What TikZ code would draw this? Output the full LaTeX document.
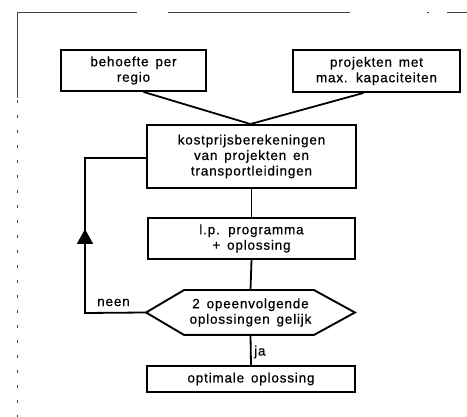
\documentclass[tikz,border=0pt]{standalone}
\usepackage{fontspec}
\setmainfont{Liberation Sans}[LetterSpace=6,WordSpace=1.5,FakeBold=0.6]
\usetikzlibrary{calc,arrows.meta}
\begin{document}
\begin{tikzpicture}[x=1pt,y=-1pt,
  box/.style={draw,line width=1.9pt,rectangle,inner sep=0pt,align=center,
    font=\fontsize{13.5}{15.5}\selectfont},
  conn/.style={line width=1.8pt},
  lbl/.style={inner sep=0pt,font=\fontsize{13.5}{15.5}\selectfont},
  frame/.style={line width=0.7pt,black!75}]
\useasboundingbox (0,0) rectangle (467,417);
% frame fragments
\draw[frame] (17,12) -- (137,12);
\draw[frame] (168,12) -- (350,12);
\draw[frame] (427,12) -- (429,12);
\draw[frame] (447,12) -- (467,12);
\draw[frame] (17,12) -- (17,98);
\draw[frame,dash pattern=on 3pt off 12pt] (17,100) -- (17,417);
% nodes
\node[box,minimum width=145,minimum height=41] (b1) at (133.5,70.5) {behoefte per\\regio};
\node[box,minimum width=167,minimum height=42] (b2) at (376.5,71) {projekten met\\max. kapaciteiten};
\node[box,minimum width=209,minimum height=63] (b3) at (251.5,156.5) {kostprijsberekeningen\\van projekten en\\transportleidingen};
\node[box,minimum width=207,minimum height=41] (b4) at (251.5,238.5) {l.p. programma\\+ oplossing};
\node[box,draw=none,minimum width=207,minimum height=43] (dec) at (250.5,312.5) {2 opeenvolgende\\oplossingen gelijk};
\draw[line width=1.9pt,line join=miter] (dec.west) -- ($(dec.north west)+(38,0)$) -- ($(dec.north east)+(-41,0)$) -- (dec.east) -- ($(dec.south east)+(-41,0)$) -- ($(dec.south west)+(38,0)$) -- cycle;
\node[box,minimum width=208,minimum height=26] (b5) at (251,379) {optimale oplossing};
% labels
\node[lbl] (neen) at (113.5,302.5) {neen};
\node[lbl,anchor=west] (ja) at (254,352) {ja};
% connectors
\draw[conn] ([xshift=10pt]b1.south) -- ([xshift=-1pt]b3.north);
\draw[conn] ([xshift=-13pt]b2.south) -- ([xshift=-1pt]b3.north);
\draw[conn] (b3.south) -- (b4.north);
\draw[conn] (b4.south) -- (dec.north);
\draw[conn] (dec.south) -- (b5.north);
\coordinate (fb) at (85,313);
\coordinate (tip) at (85,229);
\draw[conn] (dec.west) -- (fb) |- ([yshift=-1.5pt]b3.west);
\draw[conn,-{Triangle[width=16pt,length=15pt]}] (fb) -- (tip);
\end{tikzpicture}
\end{document}
